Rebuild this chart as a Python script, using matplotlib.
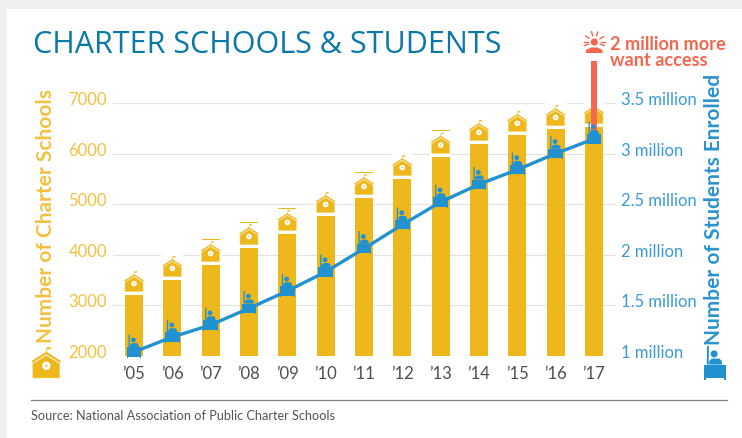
import matplotlib
matplotlib.use("Agg")
import matplotlib.pyplot as plt
from matplotlib.patches import Rectangle, Circle, PathPatch, Polygon
from matplotlib.path import Path
from matplotlib.transforms import Affine2D, ScaledTranslation
import numpy as np

plt.rcParams["font.family"] = ["Lato", "DejaVu Sans"]

years = ["’05", "’06", "’07", "’08", "’09", "’10", "’11", "’12", "’13", "’14", "’15", "’16", "’17"]
schools = [3200, 3500, 3795, 4130, 4410, 4765, 5120, 5495, 5940, 6190, 6370, 6485, 6525]
students = [1.037, 1.185, 1.304, 1.469, 1.64, 1.83, 2.06, 2.296, 2.52, 2.696, 2.84, 3.0, 3.145]
school_ticks = [2000, 3000, 4000, 5000, 6000, 7000]
student_ticks = [1, 1.5, 2, 2.5, 3, 3.5]
student_labels = ["1 million", "1.5 million", "2 million", "2.5 million", "3 million", "3.5 million"]
overline = ["’07", "’08", "’09", "’11", "’13"]

YELLOW = "#eeb81c"
YELLOW_TXT = "#f3c141"
BLUE = "#2191d0"
RED = "#f4674f"
W, H = 742, 439


def put(target, artist, tr):
    # icons are drawn in pixels, on the given axes so they stack with its marks
    target.add_artist(artist)
    artist.set_transform(tr)
    artist.set_clip_on(False)


def draw_school(target, x, y, s, z=3):
    # x,y = bottom middle of the house, in pixels
    tr = Affine2D().scale(s).translate(x, y)
    put(target, Polygon([(-9, 0), (9, 0), (9, 9.5), (0, 15), (-9, 9.5)], fc=YELLOW, ec="#f5d679", lw=0.4, zorder=z), tr)
    put(target, PathPatch(Path([(-9.5, 10.7), (0, 16.7), (9.5, 10.7)]), fc="none", ec=YELLOW, lw=1.0 * s, zorder=z), tr)
    put(target, Polygon([(-0.3, 16.5), (0.3, 16.5), (0.3, 19), (3, 19.3), (3, 20.6), (0.3, 20.4), (-0.3, 18)],
                        fc=YELLOW, ec="none", zorder=z), tr)
    put(target, Circle((0, 8.2), 2.8, fc="white", ec="none", zorder=z + 0.1), tr)
    put(target, Circle((0, 8.2), 0.9, fc="#f3cb63", ec="none", zorder=z + 0.2), tr)


def draw_student(target, x, y, s, z=6):
    # x,y = centre of the desk, in pixels
    tr = Affine2D().scale(s).translate(x, y)
    shapes = [
        Polygon([(-7.4, -4.7), (7.4, -4.7), (7.4, 4.7), (-7.4, 4.7)], fc=BLUE, ec="none", zorder=z),
        Polygon([(-7.4, -5.6), (-6.2, -5.6), (-6.2, -4), (-7.4, -4)], fc=BLUE, ec="none", zorder=z),
        Polygon([(6.2, -5.6), (7.4, -5.6), (7.4, -4), (6.2, -4)], fc=BLUE, ec="none", zorder=z),
        Polygon([(-4, 4.7), (-4, 7), (-2.2, 8.8), (3, 8.8), (4.7, 7), (4.7, 4.7)], fc=BLUE, ec="none", zorder=z),
        Polygon([(-5.6, 4.7), (-4.3, 4.7), (-4.1, 17.3), (-5.4, 17.3)], fc=BLUE, ec="none", zorder=z),
        Circle((-0.6, 12), 2.4, fc=BLUE, ec="none", zorder=z),
    ]
    for sh in shapes:
        put(target, sh, tr)


fig = plt.figure(figsize=(W / 100, H / 100), dpi=100, facecolor="#f0f0f0")
fig.add_artist(Rectangle((7 / W, 0), 1, 1 - 10 / H, transform=fig.transFigure, fc="white", ec="none", zorder=-5))

ax = fig.add_axes([113 / W, 1 - 356.7 / H, (616 - 113) / W, (356.7 - 104) / H])
ax.patch.set_alpha(0)
x = np.arange(len(years))
ax.bar(x, schools, width=18 / 38.33, color=YELLOW, zorder=2)
ax.set_xlim(-0.548, 12.575)
ax.set_ylim(2000, 7000)

ax.set_yticks(school_ticks)
ax.set_yticklabels([str(t) for t in school_ticks], fontsize=12, color=YELLOW_TXT)
ax.grid(axis="y", color="#e3e3e3", lw=0.9, zorder=0)
ax.set_axisbelow(True)
ax.set_xticks(x)
ax.set_xticklabels(years, fontsize=12, color="#4d4d4d")
ax.tick_params(axis="both", length=0)
ax.tick_params(axis="x", pad=7)
ax.tick_params(axis="y", pad=4.3)
for s in ax.spines.values():
    s.set_visible(False)

ax2 = ax.twinx()
ax2.patch.set_alpha(0)
ax2.set_ylim(1, 3.5)
ax2.set_yticks(student_ticks)
ax2.set_yticklabels(student_labels, fontsize=12, color="#3a9ad6")
ax2.tick_params(axis="y", length=0, pad=3.6)
for s in ax2.spines.values():
    s.set_visible(False)
ax2.plot(x, students, color=BLUE, lw=2.4, zorder=4, clip_on=False)
ax2.plot([12, 12], [3.19, 3.92], color=RED, lw=4.3, solid_capstyle="butt", zorder=5, clip_on=False)

# labels sit a little above their gridlines
up = ScaledTranslation(0, 5.5 / 100, fig.dpi_scale_trans)
for lab in ax.get_yticklabels() + ax2.get_yticklabels():
    lab.set_transform(lab.get_transform() + up)

fig.canvas.draw()

# school icons on top of each bar
for i, yr in enumerate(years):
    px, py = ax.transData.transform((i, schools[i]))
    put(ax, Rectangle((px - 11, py + 1), 22, 26, fc="white", ec="none", zorder=1.5), Affine2D())
    draw_school(ax, px, py + 3.3, 1.0)
    if yr in overline:
        put(ax, Rectangle((px - 9, py + 25.3), 18, 0.8, fc=YELLOW, ec="none", zorder=3), Affine2D())

for i in range(len(years)):
    px, py = ax2.transData.transform((i, students[i]))
    draw_student(ax2, px, py, 1.0)

# person with sun rays on top of red arrow
hx, hy = 594.3, H - 43
put(ax2, Circle((hx, hy), 3.6, fc=RED, ec="none", zorder=7), Affine2D())
put(ax2, Polygon([(586, H - 54), (602.5, H - 54), (602.5, H - 51), (597.5, H - 48.5), (591, H - 48.5), (586, H - 51)],
                 fc=RED, ec="none", zorder=7), Affine2D())
for a in [180, 145, 105, 70, 30, 0, -20, 200]:
    c, s = np.cos(np.radians(a)), np.sin(np.radians(a))
    put(ax2, plt.Line2D([hx + 6.5 * c, hx + 10.5 * c], [hy + 6.5 * s, hy + 10.5 * s], color=RED, lw=1.0, zorder=7),
        Affine2D())

fig.text(610 / W, 1 - 44 / H, "2 million more", fontsize=13.1, fontweight="bold", color=RED, va="center", ha="left")
fig.text(610 / W, 1 - 60 / H, "want access", fontsize=13.1, fontweight="bold", color=RED, va="center", ha="left")

# no letter spacing in matplotlib, so size is picked to fill the same width
fig.text(33 / W, 1 - 45 / H, "CHARTER SCHOOLS & STUDENTS", fontsize=22, family="Open Sans", color="#0a78a8",
         va="center", ha="left")

fig.text(46 / W, 1 - 216 / H, "Number of Charter Schools", fontsize=15, fontweight="bold", color=YELLOW_TXT,
         rotation=90, va="center", ha="center")
fig.text(714 / W, 1 - 209 / H, "Number of Students Enrolled", fontsize=15, fontweight="bold", color="#2a94d0",
         rotation=90, va="center", ha="center")

# axis title icons
draw_school(ax, 46.3, H - 379, 1.5)
draw_student(ax2, 715, H - 372.5, 1.47)

fig.add_artist(plt.Line2D([31 / W, 726.7 / W], [1 - 401 / H, 1 - 401 / H], color="#808080", lw=0.9))
fig.text(31 / W, 1 - 415.7 / H, "Source: National Association of Public Charter Schools", fontsize=9.2,
         color="#555555", va="center", ha="left")

fig.savefig("out.png", dpi=100, facecolor=fig.get_facecolor())
